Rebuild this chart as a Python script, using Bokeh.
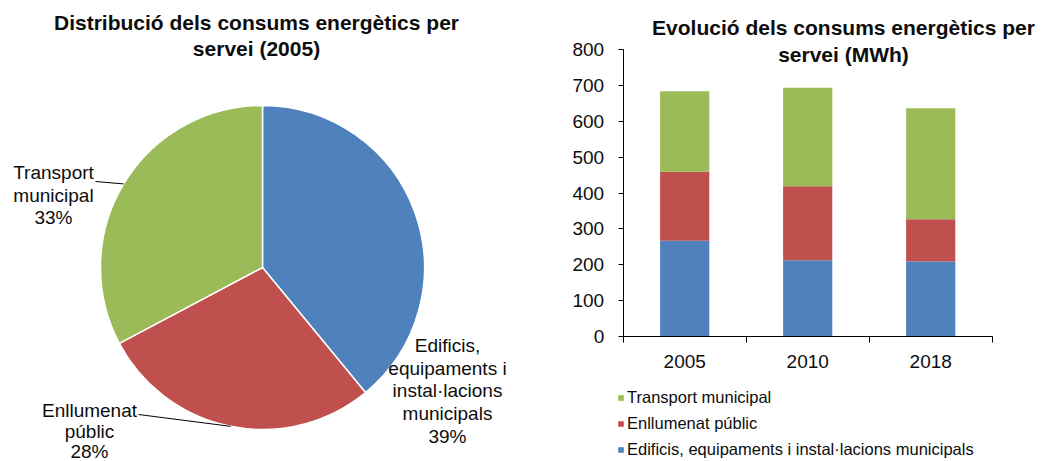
import numpy as np
from bokeh.plotting import figure
from bokeh.models import (Range1d, FixedTicker, Legend, LegendItem, LinearAxis,
                          ColumnDataSource)
from bokeh.embed import file_html
from bokeh.resources import INLINE
from bokeh.core.properties import value

# ---------------- data ----------------
years = ["2005", "2010", "2018"]
edificis = [267, 213, 209]
enllumenat = [193, 206, 118]
transport = [224, 275, 310]

series_names = ["Edificis, equipaments i instal·lacions municipals",
                "Enllumenat públic",
                "Transport municipal"]
pie_label_lines = [["Edificis,", "equipaments i", "instal·lacions", "municipals"],
                   ["Enllumenat", "públic"],
                   ["Transport", "municipal"]]
colors = ["#4F81BD", "#C0504D", "#9BBB59"]

title_left = ["Distribució dels consums energètics per", "servei (2005)"]
title_right = ["Evolució dels consums energètics per", "servei (MWh)"]
y_ticks = [0, 100, 200, 300, 400, 500, 600, 700, 800]
y_max = 800

FONT = "Liberation Sans"
TXT = "#0d0d0d"

# ---------------- canvas (pixel coordinates) ----------------
W, H = 1054, 461
p = figure(width=W, height=H, x_range=Range1d(0, W), y_range=Range1d(0, H),
           x_axis_location=None, y_axis_location=None, toolbar_location=None,
           output_backend="svg", min_border=0, outline_line_color=None)
p.grid.visible = False


def Y(yp):  # page y -> data y
    return H - yp


# bar-chart plot area on the canvas (layout constants)
BX0, BX1 = 622.7, 991.7     # left / right edge of bar area
BY0, BY1 = 336.0, 49.3      # page y of 0 and of y_max
ncat = len(years)
cw = (BX1 - BX0) / ncat
ppu = (BY0 - BY1) / y_max
p.extra_x_ranges = {"cat": Range1d(-BX0 / cw, (W - BX0) / cw)}
p.extra_y_ranges = {"mwh": Range1d(-(H - BY0) / ppu, BY0 / ppu)}

# ---------------- pie ----------------
cx, cy, r = 262, Y(267), 162
pie_vals = np.array([edificis[0], enllumenat[0], transport[0]], dtype=float)
frac = pie_vals / pie_vals.sum()
cum = np.concatenate([[0], np.cumsum(frac)])
start = np.pi / 2 - 2 * np.pi * cum[:-1]
end = np.pi / 2 - 2 * np.pi * cum[1:]
p.wedge(x=cx, y=cy, radius=r, start_angle=start, end_angle=end, direction="clock",
        fill_color=colors, line_color="white", line_width=1.5)

pcts = [f"{int(round(100 * f))}%" for f in frac]

anchors = [(447, 345), (89, 410), (53, 172)]
pitches = [22.7, 20.5, 22.7]
leader_from = [None, (138, 414), (95, 181)]
tx, ty, tt = [], [], []
for i, lines in enumerate(pie_label_lines):
    ax, ay = anchors[i]
    for j, s in enumerate(lines + [pcts[i]]):
        tx.append(ax)
        ty.append(Y(ay + j * pitches[i]))
        tt.append(s)
p.text(x=tx, y=ty, text=tt, text_align="center", text_baseline="middle",
       text_font=value(FONT), text_font_size="19px", text_color=TXT)

mid = (cum[:-1] + cum[1:]) / 2 * 2 * np.pi
for i, lf in enumerate(leader_from):
    if lf is None:
        continue
    ex = cx + r * np.sin(mid[i])
    ey = cy + r * np.cos(mid[i])
    p.segment(x0=[lf[0]], y0=[Y(lf[1])], x1=[ex], y1=[ey], line_color="black", line_width=1)

# ---------------- titles ----------------
p.text(x=[256, 256], y=[Y(22), Y(48)], text=title_left, text_align="center",
       text_baseline="middle", text_font=value(FONT), text_font_size="21px",
       text_font_style="bold", text_color=TXT)
p.text(x=[843, 843], y=[Y(27), Y(54)], text=title_right, text_align="center",
       text_baseline="middle", text_font=value(FONT), text_font_size="21px",
       text_font_style="bold", text_color=TXT)

# ---------------- stacked bars ----------------
src = ColumnDataSource(dict(x=[i + 0.5 for i in range(ncat)],
                            edificis=edificis, enllumenat=enllumenat, transport=transport))
rends = p.vbar_stack(["edificis", "enllumenat", "transport"], x="x", width=0.4,
                     color=colors, line_color=None, source=src,
                     x_range_name="cat", y_range_name="mwh")

ya = LinearAxis(y_range_name="mwh", fixed_location=BX0, bounds=(0, y_max))
ya.ticker = FixedTicker(ticks=y_ticks)
ya.major_tick_out = 5
ya.major_tick_in = 0
ya.minor_tick_out = 0
ya.minor_tick_in = 0
ya.major_label_standoff = 14
ya.major_label_text_font = FONT
ya.major_label_text_font_size = "19px"
ya.major_label_text_color = TXT
ya.axis_line_color = "black"
ya.major_tick_line_color = "black"
p.add_layout(ya, "left")

xa = LinearAxis(x_range_name="cat", y_range_name="mwh", fixed_location=0, bounds=(0, ncat))
xa.ticker = FixedTicker(ticks=[i + 0.5 for i in range(ncat)],
                        minor_ticks=list(range(ncat + 1)))
xa.major_label_overrides = {i + 0.5: y for i, y in enumerate(years)}
xa.major_tick_out = 0
xa.major_tick_in = 0
xa.minor_tick_out = 6
xa.minor_tick_in = 0
xa.minor_tick_line_color = "black"
xa.major_label_standoff = 12
xa.major_label_text_font = FONT
xa.major_label_text_font_size = "19px"
xa.major_label_text_color = TXT
xa.axis_line_color = "black"
p.add_layout(xa, "below")

items = [LegendItem(label=series_names[i], renderers=[rends[i]]) for i in (2, 1, 0)]
leg = Legend(items=items, location=(617, 2), padding=0, margin=0, spacing=6,
             label_height=20, glyph_width=7, glyph_height=7, label_standoff=3,
             label_text_font=FONT, label_text_font_size="16.5px", label_text_color=TXT,
             border_line_color=None, background_fill_alpha=0)
p.add_layout(leg)

open("out.html", "w").write(file_html(p, INLINE))
